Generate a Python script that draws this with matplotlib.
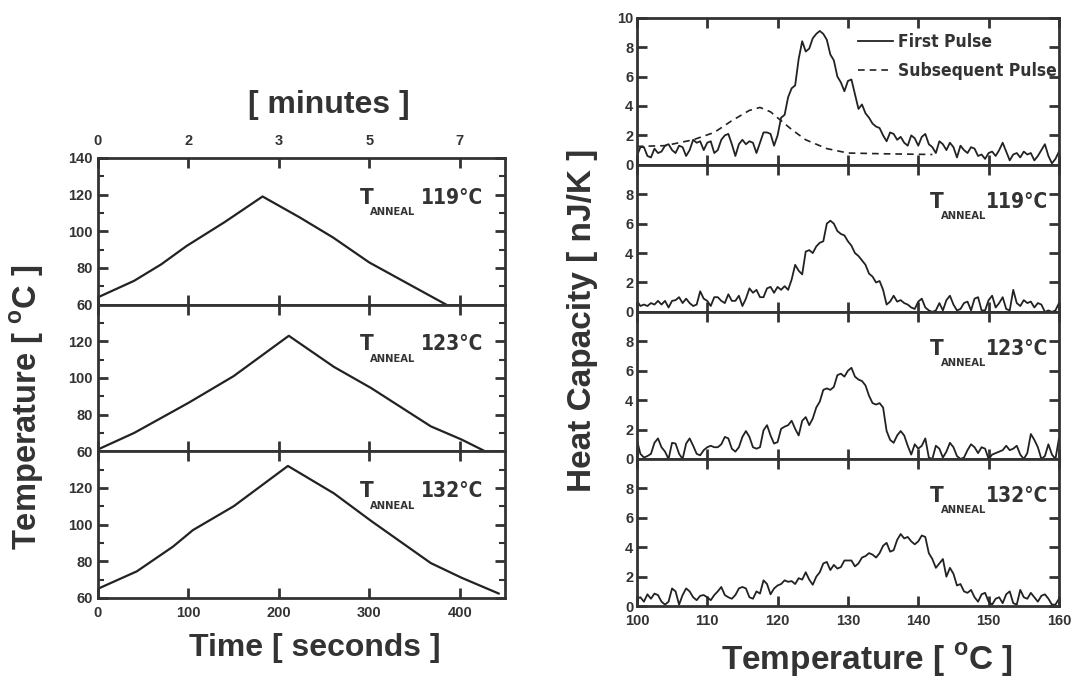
import numpy as np
import matplotlib
matplotlib.use('Agg')
import matplotlib.pyplot as plt
from matplotlib import font_manager
from matplotlib.font_manager import FontProperties

# ---- data ----
# left: annealing temperature profiles (time in s, temperature in C)
t_119 = [0, 20, 40, 70, 98, 140, 182, 223, 260, 300, 348, 385]
T_119 = [64, 68.5, 73, 82, 92, 105, 119, 107.6, 96.6, 83, 70, 60]
t_123 = [0, 40, 100, 150, 211, 261, 302, 368, 402, 428]
T_123 = [61, 70, 86.4, 101, 123, 106, 94.5, 73.6, 66.4, 60]
t_132 = [0, 43, 83, 105, 150, 210, 261, 302, 368, 402, 443]
T_132 = [65, 74.5, 88, 97, 110, 132, 117, 102, 79, 71, 62.4]
anneal_temps = [119, 123, 132]

# right: heat capacity (nJ/K), sampled every 0.5 C from 100 C
first_pulse = [
    0.6, 1.2, 1.2, 0.6, 0.5, 1.1, 0.8, 0.9, 1.3, 1.4,
    1.0, 0.8, 1.3, 1.2, 0.6, 1.0, 1.7, 1.5, 1.6, 1.0,
    1.5, 1.6, 0.8, 1.0, 1.7, 2.0, 2.1, 1.4, 0.6, 1.4,
    1.7, 1.4, 1.6, 1.5, 0.8, 1.5, 2.2, 2.2, 2.1, 1.3,
    2.0, 3.2, 3.4, 4.6, 5.2, 5.4, 7.2, 8.4, 7.7, 7.9,
    8.6, 8.9, 9.1, 8.9, 8.5, 7.5, 7.1, 6.0, 5.6, 5.0,
    5.7, 5.8, 4.8, 3.8, 4.1, 3.5, 3.2, 2.8, 2.6, 2.5,
    2.0, 1.6, 2.2, 2.1, 1.7, 1.9, 1.5, 1.3, 2.0, 1.8,
    1.3, 1.9, 2.1, 1.4, 1.2, 0.8, 1.6, 1.4, 1.0, 1.5,
    1.2, 0.5, 1.3, 1.0, 0.8, 1.2, 1.1, 0.6, 0.7, 0.4,
    0.8, 0.9, 0.6, 1.0, 1.5, 0.9, 0.3, 0.7, 0.8, 0.5,
    0.9, 0.7, 0.8, 0.3, 0.6, 1.0, 1.4, 0.6, 0.1, 0.4, 0.9]
sub_T = [100, 104, 108, 111, 113.5, 116, 117.5, 119, 120.5, 122, 124, 127, 130, 135, 142]
sub_pulse = [1.25, 1.3, 1.7, 2.2, 3.0, 3.7, 3.9, 3.6, 3.0, 2.4, 1.7, 1.1, 0.8, 0.75, 0.7]

cp_119 = [
    0.75, 0.4, 0.5, 0.4, 0.6, 0.5, 0.75, 0.5, 0.75, 0.3,
    0.75, 0.8, 1.0, 0.6, 0.9, 0.6, 0.4, 0.5, 1.4, 0.9,
    0.75, 0.4, 1.0, 1.0, 0.75, 0.6, 1.2, 0.75, 0.75, 1.1,
    0.4, 0.9, 1.6, 1.3, 1.5, 1.0, 1.0, 1.6, 1.7, 1.3,
    1.7, 1.5, 1.75, 1.5, 2.2, 3.2, 2.8, 2.55, 4.1, 4.2,
    4.0, 4.45, 4.7, 4.8, 6.0, 6.2, 6.0, 5.5, 5.3, 5.2,
    4.8, 4.5, 4.0, 3.8, 3.5, 3.2, 2.6, 2.4, 2.0, 2.1,
    1.5, 0.5, 0.7, 1.1, 0.7, 0.8, 0.6, 0.5, 0.3, 0.2,
    0.7, 0.9, 0.3, 0.1, 0.0, 0.1, 0.6, 0.1, 0.8, 1.1,
    0.5, 0.1, 0.2, 0.6, 0.7, 0.1, 0.9, 1.0, 0.1, 0.1,
    0.8, 1.1, 0.3, 0.6, 1.0, 0.2, 0.1, 1.5, 0.6, 0.4,
    0.8, 0.6, 0.7, 0.3, 0.6, 0.5, 0.0, 0.1, 0.0, 0.1, 0.6]
cp_123 = [
    1.3, 0.35, 0.1, 0.2, 0.35, 1.1, 1.4, 0.8, 0.5, 0.0,
    1.1, 1.05, 0.35, 0.0, 1.05, 1.4, 0.9, 0.35, 0.25, 0.6,
    0.8, 0.9, 0.8, 0.8, 1.0, 1.5, 1.4, 0.7, 0.5, 0.8,
    1.5, 1.9, 1.5, 0.8, 0.7, 0.8, 1.95, 2.3, 1.6, 1.05,
    1.15, 2.05, 2.2, 2.3, 2.6, 2.05, 1.6, 2.6, 2.85, 2.3,
    2.75, 3.5, 3.9, 4.7, 4.8, 4.7, 4.9, 5.7, 5.8, 5.6,
    6.0, 6.2, 5.6, 5.4, 5.3, 5.0, 4.3, 3.8, 3.7, 3.8,
    3.5, 1.9, 1.3, 1.1, 1.6, 1.9, 1.6, 0.9, 0.3, 1.0,
    0.7, 0.9, 1.4, 0.1, 0.0, 0.9, 0.7, 0.1, 0.5, 1.1,
    0.8, 0.2, 0.0, 0.1, 0.6, 1.0, 0.8, 0.4, 0.8, 0.7,
    0.0, 0.3, 0.4, 0.5, 0.6, 0.9, 0.6, 0.7, 0.9, 0.3,
    0.0, 0.4, 1.7, 1.3, 0.8, 0.0, 0.2, 1.0, 0.3, 0.0, 1.4]
cp_132 = [
    0.5, 0.6, 0.3, 0.8, 0.5, 0.85, 0.75, 0.3, 0.1, 0.3,
    1.2, 1.0, 0.1, 0.75, 1.2, 1.0, 0.6, 0.4, 0.7, 0.75,
    0.6, 0.4, 0.75, 1.0, 1.3, 0.75, 0.6, 0.5, 0.75, 1.2,
    1.3, 1.2, 0.6, 0.5, 1.0, 0.85, 1.75, 1.5, 0.8, 1.2,
    1.4, 1.5, 1.75, 1.65, 1.7, 1.5, 1.9, 1.8, 2.3, 1.8,
    1.45, 2.0, 2.3, 2.9, 3.0, 2.45, 2.8, 2.55, 2.65, 3.1,
    3.1, 3.1, 2.7, 2.9, 3.3, 3.4, 3.6, 3.5, 3.3, 3.6,
    4.1, 4.3, 3.7, 3.8, 4.5, 4.9, 4.6, 4.7, 4.4, 4.2,
    4.4, 4.8, 4.7, 3.6, 3.2, 2.6, 2.9, 3.2, 2.0, 2.6,
    2.2, 1.4, 1.5, 1.0, 0.9, 1.1, 0.6, 0.3, 0.8, 0.9,
    0.3, 0.1, 0.5, 0.6, 0.2, 0.8, 1.0, 0.2, 0.1, 1.1,
    0.6, 0.5, 0.9, 0.6, 0.3, 0.7, 0.8, 0.5, 0.1, 0.1, 0.5]

# ---- style ----
plt.rcParams['font.family'] = ['Liberation Sans', 'DejaVu Sans']
plt.rcParams['font.weight'] = 'bold'
plt.rcParams['mathtext.fontset'] = 'custom'
plt.rcParams['mathtext.rm'] = 'Liberation Sans:bold'
plt.rcParams['mathtext.bf'] = 'Liberation Sans:bold'

# look for a narrow / condensed bold sans for the small labels
narrow_file = None
for key in ['LiberationSansNarrow-Bold', 'NotoSans-CondensedBold', 'DejaVuSansCondensed-Bold',
            'RobotoCondensed-Bold', 'OpenSans_Condensed-Bold', 'OpenSansCondensed-Bold']:
    hits = [f.fname for f in font_manager.fontManager.ttflist if key in f.fname]
    if hits:
        narrow_file = hits[0]
        break
if narrow_file is None:
    hits = [f.fname for f in font_manager.fontManager.ttflist
            if ('Condensed' in f.fname or 'Narrow' in f.fname) and 'Bold' in f.fname
            and 'Italic' not in f.fname and 'Serif' not in f.fname and 'Mono' not in f.fname]
    narrow_file = hits[0] if hits else None


def narrow_fp(size):
    if narrow_file:
        return FontProperties(fname=narrow_file, size=size)
    return FontProperties(family='Liberation Sans', weight='bold', size=size * 0.8)


txt = '#333333'
line_c = '#222222'
deg = r'$^{\rm o}$'

fig = plt.figure(figsize=(10.74, 6.81), dpi=100)


def style_axes(ax):
    for s in ax.spines.values():
        s.set_linewidth(2)
        s.set_color(txt)
    ax.tick_params(which='major', direction='in', length=7, width=2, top=True, right=True,
                   color=txt, labelcolor=txt, labelsize=10.5)
    ax.tick_params(which='minor', direction='in', length=4, width=1.5, top=False, right=True, color=txt)


def anneal_label(ax, x, y, temp, dx1, dx2):
    ax.text(x, y, 'T', transform=ax.transAxes, fontproperties=narrow_fp(16),
            color=txt, va='center', ha='left')
    ax.text(x + dx1, y - 0.1, 'ANNEAL', transform=ax.transAxes, fontproperties=narrow_fp(8),
            color=txt, va='center', ha='left')
    ax.text(x + dx2, y, f'{temp}\u00b0C', transform=ax.transAxes, fontproperties=narrow_fp(15),
            color=txt, va='center', ha='left')


# ---- left: temperature vs time ----
L_left, L_w = 0.0912, 0.379
L_bot, L_h = 0.122, 0.646 / 3
left_data = [(t_119, T_119), (t_123, T_123), (t_132, T_132)]
for i, (tt, TT) in enumerate(left_data):
    ax = fig.add_axes([L_left, L_bot + (2 - i) * L_h, L_w, L_h])
    ax.plot(tt, TT, color=line_c, lw=1.6)
    ax.set_xlim(0, 450)
    ax.set_ylim(60, 140)
    ax.set_xticks([0, 100, 200, 300, 400])
    ax.set_yticks([60, 80, 100, 120, 140] if i == 0 else [60, 80, 100, 120])
    ax.set_yticks([70, 90, 110, 130], minor=True)
    style_axes(ax)
    ax.tick_params(axis='y', pad=4)
    if i == 0:
        ax.set_xticklabels(['0', '2', '3', '5', '7'])
        ax.tick_params(axis='x', labeltop=True, labelbottom=False, pad=7)
    elif i == 2:
        ax.tick_params(axis='x', pad=6)
    else:
        ax.tick_params(axis='x', labelbottom=False)
    anneal_label(ax, 0.644, 0.73, anneal_temps[i], 0.024, 0.793 - 0.644)

fig.text(0.306, 0.846, '[ minutes ]', fontsize=23, color=txt, ha='center', va='center')
fig.text(0.293, 0.048, 'Time [ seconds ]', fontsize=23, color=txt, ha='center', va='center')
fig.text(0.025, 0.402, 'Temperature [ ' + deg + 'C ]', fontsize=23.5, color=txt,
         ha='center', va='center', rotation=90)

# ---- right: heat capacity vs temperature ----
R_left, R_w = 0.593, 0.393
R_bot, R_h = 0.110, 0.864 / 4
right_data = [first_pulse, cp_119, cp_123, cp_132]
for i, cp in enumerate(right_data):
    ax = fig.add_axes([R_left, R_bot + (3 - i) * R_h, R_w, R_h])
    x = 100 + 0.5 * np.arange(len(cp))
    ax.plot(x, cp, color=line_c, lw=1.3, label='First Pulse')
    ax.set_xlim(100, 160)
    ax.set_ylim(0, 10)
    ax.set_xticks([100, 110, 120, 130, 140, 150, 160])
    ax.set_yticks([0, 2, 4, 6, 8, 10] if i == 0 else [0, 2, 4, 6, 8])
    style_axes(ax)
    ax.tick_params(axis='y', pad=2.5)
    ax.tick_params(axis='x', pad=6)
    if i < 3:
        ax.tick_params(axis='x', labelbottom=False)
    if i == 0:
        ax.plot(sub_T, sub_pulse, color=line_c, lw=1.2, ls=(0, (4, 3)), label='Subsequent Pulse')
        ax.legend(loc='upper left', bbox_to_anchor=(0.524, 0.895), frameon=False,
                  handlelength=2.0, handletextpad=0.3, labelspacing=0.65, borderpad=0,
                  borderaxespad=0, prop=narrow_fp(12.5), labelcolor=txt)
    else:
        anneal_label(ax, 0.694, 0.75, anneal_temps[i - 1], 0.027, 0.826 - 0.694)

fig.text(0.542, 0.530, 'Heat Capacity [ nJ/K ]', fontsize=24, color=txt,
         ha='center', va='center', rotation=90)
fig.text(0.807, 0.031, 'Temperature [ ' + deg + 'C ]', fontsize=24, color=txt,
         ha='center', va='center')

fig.savefig('out.png', dpi=100)
